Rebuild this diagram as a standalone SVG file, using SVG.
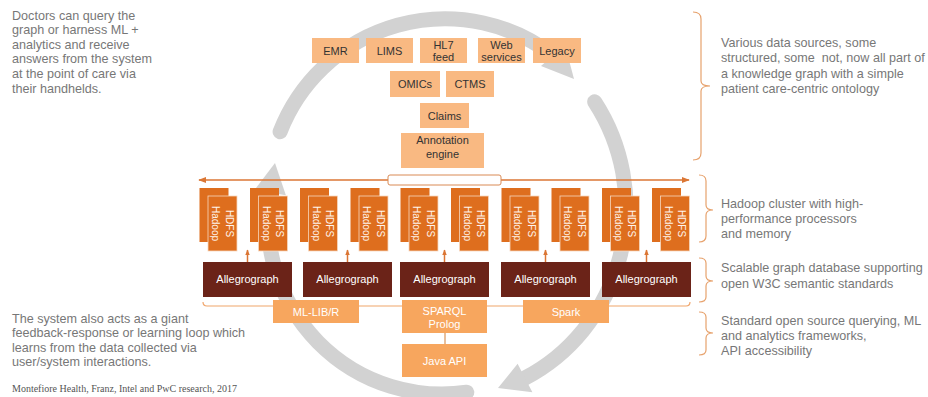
<svg xmlns="http://www.w3.org/2000/svg" width="928" height="397" viewBox="0 0 928 397">
<defs>
<style>
.sans{font-family:"Liberation Sans",Arial,Helvetica,sans-serif}
.src{fill:#F9B982}
.st{font-size:11px;fill:#333;text-anchor:middle}
.hb{fill:#DE6E1E}
.hf{fill:#DE6E1E;stroke:#F7D7BE;stroke-width:0.8}
.ht{font-size:10px;fill:#FFF4EC;text-anchor:middle}
.ag{fill:#6B2318}
.agt{font-size:11px;fill:#fff;text-anchor:middle}
.lo{fill:#F7A65E}
.lot{font-size:11px;fill:#fff;text-anchor:middle}
.note{font-size:12.6px;fill:#777}
.br{fill:none;stroke:#E7A26D;stroke-width:1.2}
.loop{fill:none;stroke:#D2D2D2;stroke-width:15;stroke-linecap:round}
.loopah{fill:#D2D2D2}
.con{fill:none;stroke:#DB7634;stroke-width:1.5}
</style>
<marker id="ah" viewBox="0 0 10 10" refX="9" refY="5" markerWidth="8" markerHeight="8" markerUnits="userSpaceOnUse" orient="auto-start-reverse">
<path d="M0,1 L10,5 L0,9 z" fill="#DB7634"/>
</marker>
<marker id="ahs" viewBox="0 0 10 10" refX="9" refY="5" markerWidth="6" markerHeight="6" markerUnits="userSpaceOnUse" orient="auto">
<path d="M0,1 L10,5 L0,9 z" fill="#DB7634"/>
</marker>
</defs>
<rect width="928" height="397" fill="#fff"/>

<g id="cycle">
<path class="loop" d="M 280.1 131.7 A 177 177 0 0 1 553 55.5"/>
<polygon class="loopah" points="541,66 574,79 565,45"/>
<path class="loop" d="M 594.7 101.8 A 183 190 0 0 1 525 378"/>
<polygon class="loopah" points="532.4,392.2 498,388 517.6,363.8"/>
<path class="loop" d="M 466.8 392.2 A 174 174 0 0 1 270.1 192.8"/>
<polygon class="loopah" points="254.3,190.3 275,163 285.9,195.3"/>
</g>

<g id="connectors">
<line class="con" x1="199" y1="180" x2="689" y2="180" marker-start="url(#ah)" marker-end="url(#ah)"/>
<rect x="388" y="175" width="113" height="10" rx="2" fill="#fff" stroke="#D98A55" stroke-width="1"/>
<line class="con" x1="247.5" y1="262" x2="247.5" y2="250" marker-end="url(#ahs)"/>
<line class="con" x1="347.5" y1="262" x2="347.5" y2="250" marker-end="url(#ahs)"/>
<line class="con" x1="444.5" y1="262" x2="444.5" y2="250" marker-end="url(#ahs)"/>
<line class="con" x1="545.5" y1="262" x2="545.5" y2="250" marker-end="url(#ahs)"/>
<line class="con" x1="646.5" y1="262" x2="646.5" y2="250" marker-end="url(#ahs)"/>
<path d="M 203 302 Q 203 306 207 306 L 686 306 Q 690 306 690 302" fill="none" stroke="#F0A56B" stroke-width="1.2"/>
<line x1="445" y1="333" x2="445" y2="344" stroke="#D9945A" stroke-width="1.2"/>
</g>

<g id="src-emr"><rect class="src" x="312" y="38" width="47" height="25"/><text class="sans st" x="335.5" y="54.5">EMR</text></g>
<g id="src-lims"><rect class="src" x="366" y="38" width="47" height="25"/><text class="sans st" x="389.5" y="54.5">LIMS</text></g>
<g id="src-hl7"><rect class="src" x="420" y="38" width="47" height="25"/><text class="sans st" x="443.5" y="49">HL7</text><text class="sans st" x="443.5" y="61">feed</text></g>
<g id="src-web"><rect class="src" x="478" y="38" width="47" height="25"/><text class="sans st" x="501.5" y="49">Web</text><text class="sans st" x="501.5" y="61">services</text></g>
<g id="src-legacy"><rect class="src" x="533" y="38" width="48" height="25"/><text class="sans st" x="557" y="54.5">Legacy</text></g>
<g id="src-omics"><rect class="src" x="390" y="71" width="50" height="26"/><text class="sans st" x="415" y="88">OMICs</text></g>
<g id="src-ctms"><rect class="src" x="446" y="71" width="48" height="26"/><text class="sans st" x="470" y="88">CTMS</text></g>
<g id="src-claims"><rect class="src" x="420" y="103" width="49" height="25"/><text class="sans st" x="444.5" y="119.5">Claims</text></g>
<g id="annotation-engine"><rect class="src" x="401" y="133" width="83" height="35"/><text class="sans st" x="442.5" y="143.5">Annotation</text><text class="sans st" x="442.5" y="158">engine</text></g>

<g id="hadoop-1"><rect class="hb" x="199.5" y="188" width="29" height="54"/><rect class="hf" x="208" y="196" width="29" height="55"/><g transform="translate(222.5,223.5) rotate(90)"><text class="sans ht" y="-3">HDFS</text><text class="sans ht" y="10.5">Hadoop</text></g></g>
<g id="hadoop-2"><rect class="hb" x="250" y="188" width="29" height="54"/><rect class="hf" x="258.5" y="196" width="29" height="55"/><g transform="translate(273,223.5) rotate(90)"><text class="sans ht" y="-3">HDFS</text><text class="sans ht" y="10.5">Hadoop</text></g></g>
<g id="hadoop-3"><rect class="hb" x="300" y="188" width="29" height="54"/><rect class="hf" x="308.5" y="196" width="29" height="55"/><g transform="translate(323,223.5) rotate(90)"><text class="sans ht" y="-3">HDFS</text><text class="sans ht" y="10.5">Hadoop</text></g></g>
<g id="hadoop-4"><rect class="hb" x="350.5" y="188" width="29" height="54"/><rect class="hf" x="359" y="196" width="29" height="55"/><g transform="translate(373.5,223.5) rotate(90)"><text class="sans ht" y="-3">HDFS</text><text class="sans ht" y="10.5">Hadoop</text></g></g>
<g id="hadoop-5"><rect class="hb" x="400.5" y="188" width="29" height="54"/><rect class="hf" x="409" y="196" width="29" height="55"/><g transform="translate(423.5,223.5) rotate(90)"><text class="sans ht" y="-3">HDFS</text><text class="sans ht" y="10.5">Hadoop</text></g></g>
<g id="hadoop-6"><rect class="hb" x="451" y="188" width="29" height="54"/><rect class="hf" x="459.5" y="196" width="29" height="55"/><g transform="translate(474,223.5) rotate(90)"><text class="sans ht" y="-3">HDFS</text><text class="sans ht" y="10.5">Hadoop</text></g></g>
<g id="hadoop-7"><rect class="hb" x="501.5" y="188" width="29" height="54"/><rect class="hf" x="510" y="196" width="29" height="55"/><g transform="translate(524.5,223.5) rotate(90)"><text class="sans ht" y="-3">HDFS</text><text class="sans ht" y="10.5">Hadoop</text></g></g>
<g id="hadoop-8"><rect class="hb" x="551.5" y="188" width="29" height="54"/><rect class="hf" x="560" y="196" width="29" height="55"/><g transform="translate(574.5,223.5) rotate(90)"><text class="sans ht" y="-3">HDFS</text><text class="sans ht" y="10.5">Hadoop</text></g></g>
<g id="hadoop-9"><rect class="hb" x="602" y="188" width="29" height="54"/><rect class="hf" x="610.5" y="196" width="29" height="55"/><g transform="translate(625,223.5) rotate(90)"><text class="sans ht" y="-3">HDFS</text><text class="sans ht" y="10.5">Hadoop</text></g></g>
<g id="hadoop-10"><rect class="hb" x="652" y="188" width="29" height="54"/><rect class="hf" x="660.5" y="196" width="29" height="55"/><g transform="translate(675,223.5) rotate(90)"><text class="sans ht" y="-3">HDFS</text><text class="sans ht" y="10.5">Hadoop</text></g></g>

<g id="allegrograph-1"><rect class="ag" x="203" y="262" width="89" height="35"/><text class="sans agt" x="247.5" y="283">Allegrograph</text></g>
<g id="allegrograph-2"><rect class="ag" x="303" y="262" width="89" height="35"/><text class="sans agt" x="347.5" y="283">Allegrograph</text></g>
<g id="allegrograph-3"><rect class="ag" x="400" y="262" width="89" height="35"/><text class="sans agt" x="444.5" y="283">Allegrograph</text></g>
<g id="allegrograph-4"><rect class="ag" x="501" y="262" width="89" height="35"/><text class="sans agt" x="545.5" y="283">Allegrograph</text></g>
<g id="allegrograph-5"><rect class="ag" x="602" y="262" width="89" height="35"/><text class="sans agt" x="646.5" y="283">Allegrograph</text></g>

<g id="ml-lib"><rect class="lo" x="273" y="300" width="86" height="23"/><text class="sans lot" x="316" y="315.5">ML-LIB/R</text></g>
<g id="sparql"><rect class="lo" x="402" y="300" width="85" height="33"/><text class="sans lot" x="444.5" y="315">SPARQL</text><text class="sans lot" x="444.5" y="328">Prolog</text></g>
<g id="spark"><rect class="lo" x="523" y="300" width="86" height="23"/><text class="sans lot" x="566" y="315.5">Spark</text></g>
<g id="java-api"><rect class="lo" x="402" y="344" width="85" height="33"/><text class="sans lot" x="444.5" y="364.5">Java API</text></g>

<g id="brackets">
<path class="br" d="M 693 12 Q 701 12 701 19 L 701 81 Q 701 86 710 86 Q 701 86 701 91 L 701 153 Q 701 160 693 160"/>
<path class="br" d="M 699 175 Q 706 175 706 181 L 706 205 Q 706 210 713 210 Q 706 210 706 215 L 706 236 Q 706 242 699 242"/>
<path class="br" d="M 699 258 Q 706 258 706 263 L 706 276 Q 706 281 713 281 Q 706 281 706 286 L 706 297 Q 706 302 699 302"/>
<path class="br" d="M 699 312 Q 706 312 706 317 L 706 328 Q 706 333 713 333 Q 706 333 706 338 L 706 350 Q 706 355 699 355"/>
</g>

<g id="notes" class="sans note">
<text x="12" y="19.5">Doctors can query the</text>
<text x="12" y="34.1">graph or harness ML +</text>
<text x="12" y="48.7">analytics and receive</text>
<text x="12" y="63.3">answers from the system</text>
<text x="12" y="77.9">at the point of care via</text>
<text x="12" y="92.5">their handhelds.</text>
<text x="12" y="322.5">The system also acts as a giant</text>
<text x="12" y="337">feedback-response or learning loop which</text>
<text x="12" y="351.5">learns from the data collected via</text>
<text x="12" y="366">user/system interactions.</text>
<text x="721" y="46.5">Various data sources, some</text>
<text x="721" y="62" xml:space="preserve">structured, some  not, now all part of</text>
<text x="721" y="77.5">a knowledge graph with a simple</text>
<text x="721" y="93">patient care-centric ontology</text>
<text x="721" y="207.5">Hadoop cluster with high-</text>
<text x="721" y="222.5">performance processors</text>
<text x="721" y="237.5">and memory</text>
<text x="721" y="271.5">Scalable graph database supporting</text>
<text x="721" y="287.5">open W3C semantic standards</text>
<text x="721" y="324.5">Standard open source querying, ML</text>
<text x="721" y="339.5">and analytics frameworks,</text>
<text x="721" y="354.5">API accessibility</text>
</g>
<text x="12" y="392" font-family="'Liberation Serif','Times New Roman',serif" font-size="10" fill="#555">Montefiore Health, Franz, Intel and PwC research, 2017</text>
</svg>
